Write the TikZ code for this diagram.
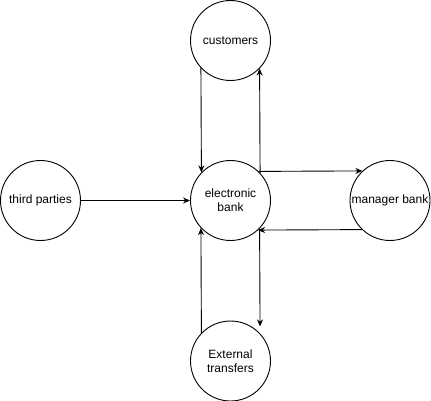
\documentclass[tikz,border=0pt]{standalone}
\usepackage{fontspec}
\setmainfont{Liberation Sans}
\usetikzlibrary{positioning,arrows.meta}

\begin{document}
\begin{tikzpicture}[
        node distance = 160pt,
        minimum size=80pt,
        inner sep=0pt,
        circle,
        line width=0.9pt,
        >={Stealth[length=7pt,width=6pt]},
        font=\fontsize{12pt}{14pt}\selectfont,
        every node/.style={align=center}]

        \useasboundingbox (0,0) rectangle (431pt,-401pt);

        % NODES
        % center
        \node[draw=black] (ebank) at (230.5pt,-200.5pt) {electronic\\bank};

        % around
        \node[draw=black, above of = ebank] (customers) {customers};
        \node[draw=black, left of = ebank, node distance = 190pt] (third) {third parties};
        \node[draw=black, right of = ebank, node distance = 159.5pt] (manager) {manager bank};
        \node[draw=black, below of = ebank, node distance = 160.5pt] (external) {External\\transfers};

        % ARROWS
        \draw[->] (customers.223.5)--(ebank.136.5);
        \draw[->] (ebank.43.5)--(customers.316.5);
        \draw[->] (ebank.46.5)--(manager.133.5);
        \draw[->] (manager.226.5)--(ebank.313.5);
        \draw[->] (third)--(ebank);
        \draw[->] (external.136.5)--(ebank.223.5);
        \draw[->, shorten >=7pt] (ebank.316.5)--(external.43.5);
        \end{tikzpicture}
\end{document}
